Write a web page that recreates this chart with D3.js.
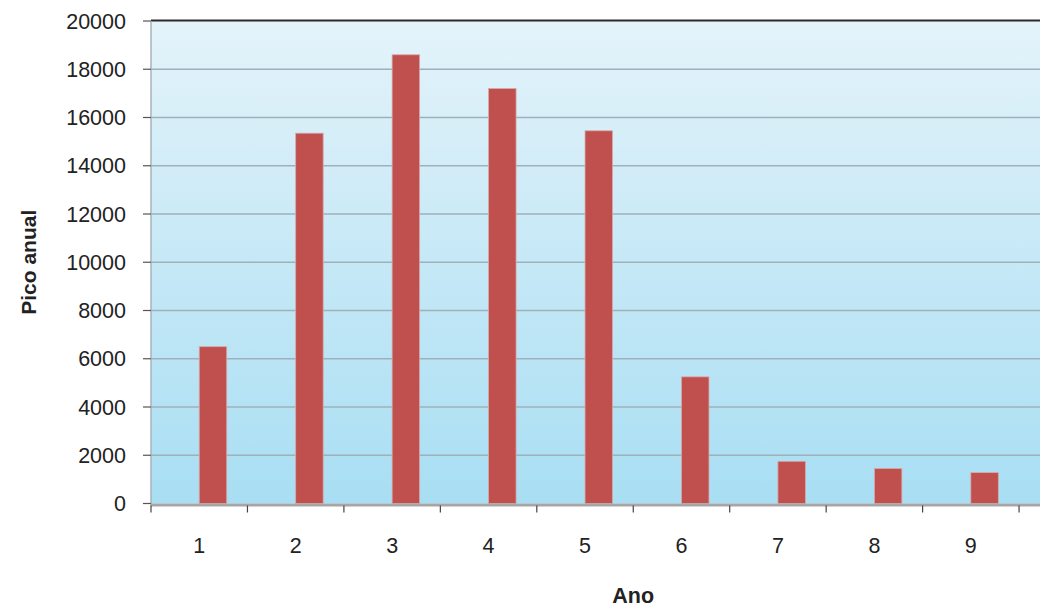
<!DOCTYPE html>
<html>
<head>
<meta charset="utf-8">
<script src="https://cdn.jsdelivr.net/npm/d3@7"></script>
<style>
  html, body { margin: 0; padding: 0; background: #fff; }
  svg { display: block; }
  text { font-family: "Liberation Sans", Arial, sans-serif; fill: #222; }
</style>
</head>
<body>
<svg id="chart" width="1040" height="607"></svg>
<script>
// ---- data ----
const categories = ["1", "2", "3", "4", "5", "6", "7", "8", "9"];
const picoAnual = [6500, 15350, 18600, 17200, 15450, 5250, 1750, 1450, 1280];
const yTicks = [0, 2000, 4000, 6000, 8000, 10000, 12000, 14000, 16000, 18000, 20000];
const xTitle = "Ano";
const yTitle = "Pico anual";

// ---- layout ----
const W = 1040, H = 607;
const plot = { left: 151, top: 21, bottom: 503.5, bandW: 96.45 };
const plotRight = plot.left + plot.bandW * (categories.length + 1); // chart continues past crop

const svg = d3.select("#chart");

const x0 = d3.scaleBand()
  .domain(categories)
  .range([plot.left, plot.left + plot.bandW * categories.length])
  .padding(0);
const x1 = d3.scaleBand()
  .domain(["empty", "pico"])
  .range([x0.bandwidth() / 2 - 27.5, x0.bandwidth() / 2 + 27.5])
  .padding(0);
const y = d3.scaleLinear().domain([0, 20000]).range([plot.bottom, plot.top]);

// background gradient
const defs = svg.append("defs");
const grad = defs.append("linearGradient").attr("id", "bg")
  .attr("x1", 0).attr("y1", 0).attr("x2", 0).attr("y2", 1);
grad.append("stop").attr("offset", "0%").attr("stop-color", "#e4f3fa");
grad.append("stop").attr("offset", "100%").attr("stop-color", "#a8def3");

svg.append("rect")
  .attr("x", plot.left).attr("y", plot.top)
  .attr("width", plotRight - plot.left).attr("height", plot.bottom - plot.top)
  .attr("fill", "url(#bg)");

// gridlines
svg.append("g").selectAll("line")
  .data(yTicks.filter(t => t > 0 && t < 20000))
  .join("line")
  .attr("x1", plot.left).attr("x2", plotRight)
  .attr("y1", d => y(d)).attr("y2", d => y(d))
  .attr("stroke", "#9fb1b8").attr("stroke-width", 1.6);

// bars
svg.append("g").selectAll("rect")
  .data(categories.map((c, i) => ({ c, v: picoAnual[i] })))
  .join("rect")
  .attr("x", d => x0(d.c) + x1("pico"))
  .attr("y", d => y(d.v))
  .attr("width", x1.bandwidth())
  .attr("height", d => y(0) - y(d.v))
  .attr("fill", "#c0504d")
  .attr("stroke", "#d9a9ab").attr("stroke-width", 0.8);

// top border
svg.append("line")
  .attr("x1", plot.left).attr("x2", plotRight)
  .attr("y1", plot.top - 0.5).attr("y2", plot.top - 0.5)
  .attr("stroke", "#2b2b2b").attr("stroke-width", 2);

// left axis line
svg.append("line")
  .attr("x1", plot.left).attr("x2", plot.left)
  .attr("y1", plot.top).attr("y2", plot.bottom + 3)
  .attr("stroke", "#a9b3b7").attr("stroke-width", 1.5);

// bottom axis (thick gray)
svg.append("line")
  .attr("x1", plot.left).attr("x2", plotRight)
  .attr("y1", plot.bottom + 1.5).attr("y2", plot.bottom + 1.5)
  .attr("stroke", "#a6a6a6").attr("stroke-width", 3);

// y ticks and labels
const yAxisG = svg.append("g");
yAxisG.selectAll("line")
  .data(yTicks).join("line")
  .attr("x1", plot.left - 8).attr("x2", plot.left)
  .attr("y1", d => y(d)).attr("y2", d => y(d))
  .attr("stroke", "#555").attr("stroke-width", 1.2);
yAxisG.selectAll("text")
  .data(yTicks).join("text")
  .attr("x", 126).attr("y", d => y(d))
  .attr("dy", "0.36em")
  .attr("text-anchor", "end")
  .attr("font-size", 21.5)
  .text(d => d);

// x ticks at band boundaries
const boundaries = categories.map(c => x0(c)).concat([x0(categories[categories.length - 1]) + x0.bandwidth()]);
svg.append("g").selectAll("line")
  .data(boundaries).join("line")
  .attr("x1", d => d).attr("x2", d => d)
  .attr("y1", plot.bottom + 2).attr("y2", plot.bottom + 9)
  .attr("stroke", "#444").attr("stroke-width", 1.2);

// x labels
svg.append("g").selectAll("text")
  .data(categories).join("text")
  .attr("x", d => x0(d) + x0.bandwidth() / 2)
  .attr("y", 553)
  .attr("text-anchor", "middle")
  .attr("font-size", 21.5)
  .text(d => d);

// axis titles
svg.append("text")
  .attr("x", (plot.left + plotRight) / 2)
  .attr("y", 603)
  .attr("text-anchor", "middle")
  .attr("font-size", 21.5)
  .attr("font-weight", "bold")
  .text(xTitle);

svg.append("text")
  .attr("transform", `translate(36, ${(plot.top + plot.bottom) / 2}) rotate(-90)`)
  .attr("text-anchor", "middle")
  .attr("font-size", 21)
  .attr("font-weight", "bold")
  .text(yTitle);
</script>
</body>
</html>
